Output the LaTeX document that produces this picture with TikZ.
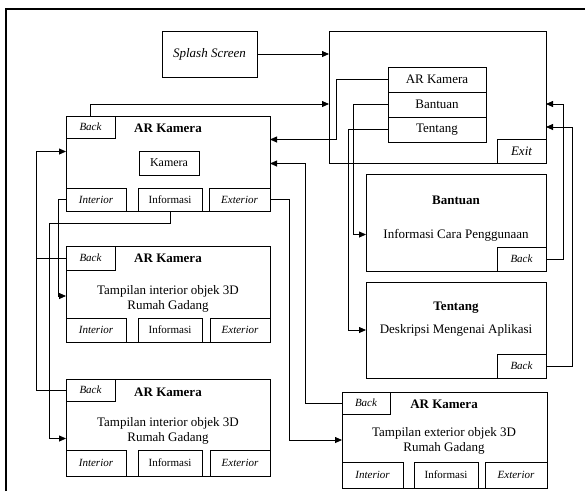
\documentclass[tikz,border=0pt]{standalone}
\usepackage{fontspec}
\setmainfont{Liberation Serif}
\usetikzlibrary{arrows.meta}

\begin{document}
\begin{tikzpicture}[x=1pt,y=-1pt,
  scr/.style={draw, line width=0.8pt, anchor=north west, inner sep=0pt, outer sep=0pt},
  tab/.style={scr, font=\fontsize{11}{12}\selectfont},
  lbl/.style={inner sep=0pt, font=\fontsize{13}{15}\selectfont, align=center},
  arr/.style={line width=0.8pt, -{Triangle[length=7pt,width=6pt]}},
  ln/.style={line width=0.8pt}]
\useasboundingbox (0,0) rectangle (585,491);
\draw[line width=1.6pt] (6,491) -- (6,9) -- (585,9);
% splash and menu
\node[scr, minimum width=95, minimum height=46, font=\fontsize{13}{15}\selectfont\itshape] (splash) at (162,31) {Splash Screen};
\node[scr, minimum width=217, minimum height=132] (menu) at (329,31) {};
\node[scr, minimum width=98, minimum height=25, font=\fontsize{13}{15}\selectfont] (mar) at (388,67) {AR Kamera};
\node[scr, minimum width=98, minimum height=25, font=\fontsize{13}{15}\selectfont] (mban) at (388,92) {Bantuan};
\node[scr, minimum width=98, minimum height=25, font=\fontsize{13}{15}\selectfont] (mten) at (388,117) {Tentang};
\node[scr, minimum width=49, minimum height=24, font=\fontsize{13}{15}\selectfont\itshape] (exit) at (497,139) {Exit};
% AR Kamera 1
\node[scr, minimum width=204, minimum height=95] (ar1) at (66,116) {};
\node[tab, minimum width=49, minimum height=22, font=\fontsize{11}{12}\selectfont\itshape] (back1) at (66,116) {Back};
\node[lbl, font=\fontsize{13}{15}\selectfont\bfseries] (t1) at (168,128) {AR Kamera};
\node[scr, minimum width=60, minimum height=24, font=\fontsize{12}{14}\selectfont] (kam) at (139,151) {Kamera};
\node[tab, minimum width=60, minimum height=23, font=\fontsize{11}{12}\selectfont\itshape] (int1) at (66,188) {Interior};
\node[tab, minimum width=64, minimum height=23] (inf1) at (138,188) {Informasi};
\node[tab, minimum width=61, minimum height=23, font=\fontsize{11}{12}\selectfont\itshape] (ext1) at (209,188) {Exterior};
% AR Kamera 2
\node[scr, minimum width=204, minimum height=96] (ar2) at (66,246) {};
\node[tab, minimum width=49, minimum height=24, font=\fontsize{11}{12}\selectfont\itshape] (back2) at (66,246) {Back};
\node[lbl, font=\fontsize{13}{15}\selectfont\bfseries] (t2) at (168,258) {AR Kamera};
\node[lbl] (d2) at (168,299) {Tampilan interior objek 3D\\Rumah Gadang};
\node[tab, minimum width=60, minimum height=24, font=\fontsize{11}{12}\selectfont\itshape] (int2) at (66,318) {Interior};
\node[tab, minimum width=64, minimum height=24] (inf2) at (138,318) {Informasi};
\node[tab, minimum width=60, minimum height=24, font=\fontsize{11}{12}\selectfont\itshape] (ext2) at (210,318) {Exterior};
% AR Kamera 3
\node[scr, minimum width=204, minimum height=97] (ar3) at (66,379) {};
\node[tab, minimum width=49, minimum height=22, font=\fontsize{11}{12}\selectfont\itshape] (back3) at (66,379) {Back};
\node[lbl, font=\fontsize{13}{15}\selectfont\bfseries] (t3) at (168,392) {AR Kamera};
\node[lbl] (d3) at (168,431) {Tampilan interior objek 3D\\Rumah Gadang};
\node[tab, minimum width=60, minimum height=26, font=\fontsize{11}{12}\selectfont\itshape] (int3) at (66,450) {Interior};
\node[tab, minimum width=64, minimum height=26] (inf3) at (138,450) {Informasi};
\node[tab, minimum width=60, minimum height=26, font=\fontsize{11}{12}\selectfont\itshape] (ext3) at (210,450) {Exterior};
% Bantuan
\node[scr, minimum width=180, minimum height=97] (ban) at (366,174) {};
\node[lbl, font=\fontsize{13}{15}\selectfont\bfseries] (t5) at (456,200) {Bantuan};
\node[lbl] (d5) at (456,235) {Informasi Cara Penggunaan};
\node[tab, minimum width=49, minimum height=24, font=\fontsize{11}{12}\selectfont\itshape] (back5) at (497,247) {Back};
% Tentang
\node[scr, minimum width=180, minimum height=96] (ten) at (366,282) {};
\node[lbl, font=\fontsize{13}{15}\selectfont\bfseries] (t6) at (456,308) {Tentang};
\node[lbl] (d6) at (456,330) {Deskripsi Mengenai Aplikasi};
\node[tab, minimum width=49, minimum height=24, font=\fontsize{11}{12}\selectfont\itshape] (back6) at (497,354) {Back};
% AR Kamera 4
\node[scr, minimum width=205, minimum height=96] (ar4) at (342,392) {};
\node[tab, minimum width=48, minimum height=22, font=\fontsize{11}{12}\selectfont\itshape] (back4) at (342,392) {Back};
\node[lbl, font=\fontsize{13}{15}\selectfont\bfseries] (t4) at (444,404) {AR Kamera};
\node[lbl] (d4) at (444,441) {Tampilan exterior objek 3D\\Rumah Gadang};
\node[tab, minimum width=61, minimum height=26, font=\fontsize{11}{12}\selectfont\itshape] (int4) at (342,462) {Interior};
\node[tab, minimum width=64, minimum height=26] (inf4) at (414,462) {Informasi};
\node[tab, minimum width=62, minimum height=26, font=\fontsize{11}{12}\selectfont\itshape] (ext4) at (485,462) {Exterior};
% connectors
\draw[arr] (splash.east) -- (splash.east -| menu.west);
\draw[arr] (back1.north) |- ([yshift=-7pt]menu.west);
\draw[arr] (back5.east) -- ++(17,0) |- ([yshift=-7pt]menu.east);
\draw[arr] (back6.east) -- ++(26,0) |- ([yshift=-30pt]menu.east);
\draw[arr] (mar.west) -- ++(-52,0) |- ([yshift=24pt]ar1.east);
\draw[arr] (back4.west) -- ++(-37,0) |- (ar1.east);
\draw[arr] (mban.west) -- ++(-35,0) |- ([yshift=-12pt]ban.west);
\draw[arr] (mten.west) -- ++(-40,0) |- (ten.west);
\draw[arr] (int1.west) -- ++(-8,0) |- ([yshift=-2pt]ar2.west);
\draw[arr] (inf1.south) -- ++(0,12) -- ++(-121,0) |- ([yshift=-11pt]ar3.west);
\draw[arr] (ext1.east) -- ++(19,0) |- (ar4.west);
\draw[arr] (back3.west) -- ++(-30,0) |- ([yshift=12pt]ar1.west);
\draw[ln] (back2.west) -- ++(-30,0);
\end{tikzpicture}
\end{document}
